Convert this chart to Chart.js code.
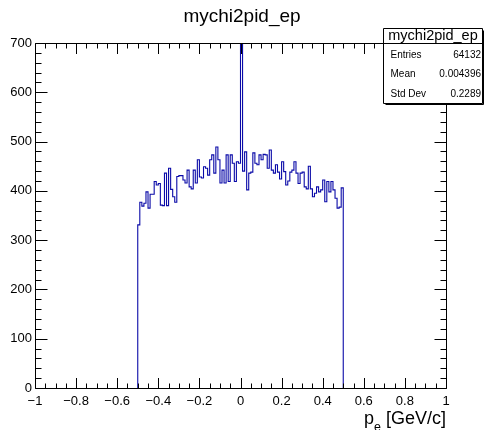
<!DOCTYPE html>
<html><head><meta charset="utf-8">
<script src="https://cdn.jsdelivr.net/npm/chart.js@4.4.0/dist/chart.umd.min.js"></script>
<style>html,body{margin:0;padding:0;background:#fff;} canvas{display:block}</style>
</head><body>
<canvas id="c" width="485" height="430"></canvas>
<script>
const histTitle = 'mychi2pid_ep';
const histRange = [-0.5, 0.5];
const counts = [
  331, 377, 369, 375, 398, 365, 393, 393, 419, 412, 415, 371, 370, 436, 370, 446, 403, 388, 377, 429, 431, 431,
  422, 416, 442, 408, 404, 442, 416, 463, 428, 426, 449, 446, 432, 463, 473, 436, 489, 463, 416, 442, 416, 473, 419, 473, 456,
  419, 459, 456,
  21000,
  440, 479, 402, 436, 438, 477, 456, 453, 473, 463, 474, 473, 446, 483, 442, 436, 453, 438, 424, 459,
  439, 412, 420, 438, 442, 459, 436, 415, 436, 438, 408, 404, 450, 404, 388, 395, 408, 398, 402, 422, 378, 419, 398, 419, 402, 385, 365, 367, 406
];
const xTickValues = [-1, -0.8, -0.6, -0.4, -0.2, 0, 0.2, 0.4, 0.6, 0.8, 1];
const xTickLabels = ['\u22121', '\u22120.8', '\u22120.6', '\u22120.4', '\u22120.2', '0', '0.2', '0.4', '0.6', '0.8', '1'];
const yTickValues = [0, 100, 200, 300, 400, 500, 600, 700];
const yTickLabels = ['0', '100', '200', '300', '400', '500', '600', '700'];
const xAxisTitle = ['p', 'e', ' [GeV/c]'];
const statsLabels = ['Entries', 'Mean', 'Std Dev'];
const statsValues = ['64132', '0.004396', '0.2289'];

const FONT = 'Liberation Sans, Arial, Helvetica, sans-serif';

const nb = counts.length, bw = (histRange[1] - histRange[0]) / nb;
const pts = [{x: histRange[0], y: 0}];
counts.forEach((c, i) => {
  const lo = histRange[0] + i * bw;
  pts.push({x: lo, y: c}, {x: lo + bw, y: c});
});
pts.push({x: histRange[1], y: 0});

const rootDecor = {
  id: 'rootDecor',
  afterDraw(chart) {
    const ctx = chart.ctx, a = chart.chartArea;
    const xs = chart.scales.x, ys = chart.scales.y;
    ctx.save();
    ctx.strokeStyle = '#000';
    ctx.lineWidth = 1;
    const L = Math.round(a.left) + 0.5, R = Math.round(a.right) + 0.5;
    const T = Math.round(a.top) + 0.5, B = Math.round(a.bottom) + 0.5;
    ctx.beginPath();
    ctx.rect(L, T, R - L, B - T);
    ctx.stroke();
    ctx.beginPath();
    for (let k = 0; k <= 40; k++) {
      const v = -1 + k * 0.05;
      const major = k % 4 === 0;
      const len = major ? 10.5 : 5;
      const px = Math.round(xs.getPixelForValue(v)) + 0.5;
      ctx.moveTo(px, B); ctx.lineTo(px, B - len);
      ctx.moveTo(px, T); ctx.lineTo(px, T + len);
    }
    for (let k = 0; k <= 35; k++) {
      const v = k * 20;
      const major = k % 5 === 0;
      const len = major ? 12 : 6;
      const py = Math.round(ys.getPixelForValue(v)) + 0.5;
      ctx.moveTo(L, py); ctx.lineTo(L + len, py);
      ctx.moveTo(R, py); ctx.lineTo(R - len, py);
    }
    ctx.stroke();

    ctx.fillStyle = '#000';
    ctx.font = '19px ' + FONT;
    ctx.textAlign = 'center';
    ctx.textBaseline = 'alphabetic';
    ctx.fillText(histTitle, 242, 22);

    const mainF = '18px ' + FONT, subF = '12.5px ' + FONT;
    ctx.font = mainF; const w0 = ctx.measureText(xAxisTitle[0]).width;
    const w2 = ctx.measureText(xAxisTitle[2]).width;
    ctx.font = subF; const w1 = ctx.measureText(xAxisTitle[1]).width;
    let x0 = a.right - (w0 + w1 + w2);
    ctx.textAlign = 'left';
    ctx.font = mainF; ctx.fillText(xAxisTitle[0], x0, 424);
    ctx.font = subF; ctx.fillText(xAxisTitle[1], x0 + w0, 431);
    ctx.font = mainF; ctx.fillText(xAxisTitle[2], x0 + w0 + w1, 424);

    const bx0 = 383.5, by0 = 28.5, bx1 = 482.5, by1 = 103.5;
    ctx.fillStyle = '#fff';
    ctx.fillRect(bx0, by0, bx1 - bx0, by1 - by0);
    ctx.strokeStyle = '#000';
    ctx.beginPath();
    ctx.rect(bx0, by0, bx1 - bx0, by1 - by0);
    ctx.moveTo(bx0 + 2, by1 + 1); ctx.lineTo(bx1 + 1, by1 + 1); ctx.lineTo(bx1 + 1, by0 + 2);
    ctx.moveTo(bx0, 43.5); ctx.lineTo(bx1, 43.5);
    ctx.stroke();
    ctx.fillStyle = '#000';
    ctx.font = '14.5px ' + FONT;
    ctx.textAlign = 'center';
    ctx.textBaseline = 'middle';
    ctx.fillText(histTitle, (bx0 + bx1) / 2, 36);
    ctx.font = '10px ' + FONT;
    const rowY = [55, 74.5, 94];
    statsLabels.forEach((lab, i) => {
      ctx.textAlign = 'left';
      ctx.fillText(lab, 390.5, rowY[i]);
      ctx.textAlign = 'right';
      ctx.fillText(statsValues[i], 481, rowY[i]);
    });
    ctx.restore();
  }
};

new Chart(document.getElementById('c'), {
  type: 'scatter',
  data: {
    datasets: [{
      data: pts,
      showLine: true,
      borderColor: '#0a0aa8',
      borderWidth: 1.1,
      pointRadius: 0,
      pointHoverRadius: 0,
      fill: false,
      tension: 0
    }]
  },
  options: {
    responsive: false,
    animation: false,
    events: [],
    layout: {padding: {top: 43, right: 39, left: 0, bottom: 0}},
    scales: {
      x: {
        type: 'linear', min: -1, max: 1,
        afterFit: s => { s.height = 42; },
        afterBuildTicks: s => { s.ticks = xTickValues.map(v => ({value: v})); },
        grid: {display: false, drawTicks: false},
        border: {display: false},
        ticks: {
          autoSkip: false, maxRotation: 0, padding: 6, color: '#000',
          font: {family: FONT, size: 13},
          callback: (v, i) => xTickLabels[i]
        }
      },
      y: {
        min: 0, max: 700,
        afterFit: s => { s.width = 35; },
        afterBuildTicks: s => { s.ticks = yTickValues.map(v => ({value: v})); },
        grid: {display: false, drawTicks: false},
        border: {display: false},
        ticks: {
          autoSkip: false, padding: 3, color: '#000',
          font: {family: FONT, size: 13},
          callback: (v, i) => yTickLabels[i]
        }
      }
    },
    plugins: {legend: {display: false}, tooltip: {enabled: false}, title: {display: false}}
  },
  plugins: [rootDecor]
});
</script>
</body></html>
